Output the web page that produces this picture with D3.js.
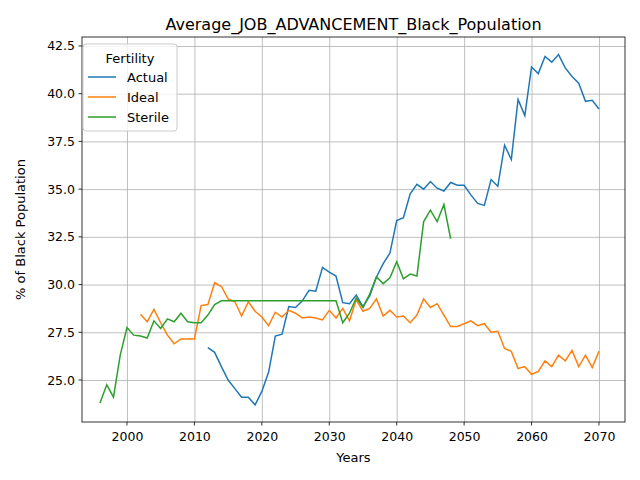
<!DOCTYPE html>
<html><head><meta charset="utf-8">
<script src="https://cdn.jsdelivr.net/npm/d3@7"></script>
<style>body{margin:0;background:#fff}text{font-family:"DejaVu Sans",sans-serif}</style>
</head><body>
<script>
var actualStart = 2012;
var actual = [26.7,26.45,25.7,25.0,24.55,24.1,24.1,23.7,24.4,25.4,27.3,27.4,28.85,28.8,29.15,29.7,29.65,30.9,30.65,30.45,
  29.05,29.0,29.45,28.85,29.4,30.4,31.1,31.65,33.35,33.5,34.75,35.25,35.0,35.4,35.05,34.9,35.35,35.2,35.2,34.7,
  34.25,34.15,35.5,35.15,37.3,36.55,39.7,38.85,41.4,41.05,41.95,41.65,42.05,41.35,40.9,40.55,39.6,39.65,39.2];
var idealStart = 2002;
var ideal = [28.45,28.05,28.7,28.0,27.35,26.9,27.15,27.15,27.15,28.9,28.95,30.1,29.9,29.25,29.1,28.35,29.1,28.6,28.3,27.85,
  28.55,28.3,28.65,28.5,28.25,28.3,28.25,28.15,28.65,28.25,28.75,28.1,29.2,28.6,28.75,29.25,28.35,28.65,28.3,28.35,
  28.0,28.4,29.25,28.8,29.0,28.4,27.8,27.8,27.95,28.1,27.85,27.95,27.5,27.55,26.65,26.5,25.6,25.7,25.3,25.45,
  26.0,25.7,26.3,26.0,26.55,25.7,26.3,25.65,26.5];
var sterileStart = 1996;
var sterile = [23.8,24.75,24.1,26.3,27.75,27.35,27.3,27.2,28.1,27.7,28.2,28.05,28.5,28.05,28.0,28.0,28.4,28.95,29.15,29.15,
  29.15,29.15,29.15,29.15,29.15,29.15,29.15,29.15,29.15,29.15,29.15,29.15,29.15,29.15,29.15,29.15,28.0,28.5,29.3,28.8,
  29.5,30.4,30.05,30.35,31.2,30.3,30.55,30.45,33.3,33.9,33.3,34.2,32.4];
var seriesNames = ["Actual","Ideal","Sterile"];
var colors = ["#1f77b4","#ff7f0e","#2ca02c"];
var xTicks = [2000,2010,2020,2030,2040,2050,2060,2070];
var yTicks = [25.0,27.5,30.0,32.5,35.0,37.5,40.0,42.5];

var series = [[actualStart,actual],[idealStart,ideal],[sterileStart,sterile]].map(function(s){
  return s[1].map(function(v,i){ return [s[0]+i, v]; });
});

var L=82,R=625,T=37,B=422;
var x = d3.scaleLinear().domain([1993.33,2073.86]).range([L,R]);
var y = d3.scaleLinear().domain([22.8,42.97]).range([B,T]);

var svg = d3.select("body").append("svg").attr("width",640).attr("height",480);

svg.append("g").attr("transform","translate(0,"+B+")")
  .call(d3.axisBottom(x).tickValues(xTicks).tickFormat(d3.format("d")).tickSize(-(B-T)).tickSizeOuter(0))
  .call(function(g){ g.select(".domain").remove(); g.selectAll("line").attr("stroke","#b0b0b0").attr("stroke-width",0.8);
    g.selectAll("text").attr("font-size",12.5).attr("fill","#000").attr("y",8).attr("dy","0.9em"); });
svg.append("g").attr("transform","translate("+L+",0)")
  .call(d3.axisLeft(y).tickValues(yTicks).tickFormat(d3.format(".1f")).tickSize(-(R-L)).tickSizeOuter(0))
  .call(function(g){ g.select(".domain").remove(); g.selectAll("line").attr("stroke","#b0b0b0").attr("stroke-width",0.8);
    g.selectAll("text").attr("font-size",12.5).attr("fill","#000").attr("x",-7); });
xTicks.forEach(function(t){ svg.append("line").attr("x1",x(t)).attr("x2",x(t)).attr("y1",B).attr("y2",B+3.5).attr("stroke","#000").attr("stroke-width",0.8); });
yTicks.forEach(function(t){ svg.append("line").attr("x1",L-3.5).attr("x2",L).attr("y1",y(t)).attr("y2",y(t)).attr("stroke","#000").attr("stroke-width",0.8); });

var line = d3.line().x(function(d){return x(d[0]);}).y(function(d){return y(d[1]);});
series.forEach(function(s,i){
  svg.append("path").datum(s).attr("d",line).attr("fill","none").attr("stroke",colors[i]).attr("stroke-width",1.5);
});

svg.append("rect").attr("x",L).attr("y",T).attr("width",R-L).attr("height",B-T).attr("fill","none").attr("stroke","#000").attr("stroke-width",0.8);

svg.append("text").attr("x",(L+R)/2).attr("y",T-7).attr("text-anchor","middle").attr("font-size",16).text("Average_JOB_ADVANCEMENT_Black_Population");
svg.append("text").attr("x",(L+R)/2).attr("y",462).attr("text-anchor","middle").attr("font-size",13).text("Years");
svg.append("text").attr("transform","translate(25,"+((T+B)/2)+") rotate(-90)").attr("text-anchor","middle").attr("font-size",13).text("% of Black Population");

var lg = svg.append("g").attr("transform","translate(83,44)");
lg.append("rect").attr("width",94).attr("height",87).attr("rx",3).attr("fill","#fff").attr("fill-opacity",0.8).attr("stroke","#ccc");
lg.append("text").attr("x",47).attr("y",19).attr("text-anchor","middle").attr("font-size",13).text("Fertility");
seriesNames.forEach(function(n,i){
  var yy = 33 + i*20;
  lg.append("line").attr("x1",5).attr("x2",33).attr("y1",yy).attr("y2",yy).attr("stroke",colors[i]).attr("stroke-width",1.5);
  lg.append("text").attr("x",44).attr("y",yy+5).attr("font-size",13).text(n);
});
</script>
</body></html>
